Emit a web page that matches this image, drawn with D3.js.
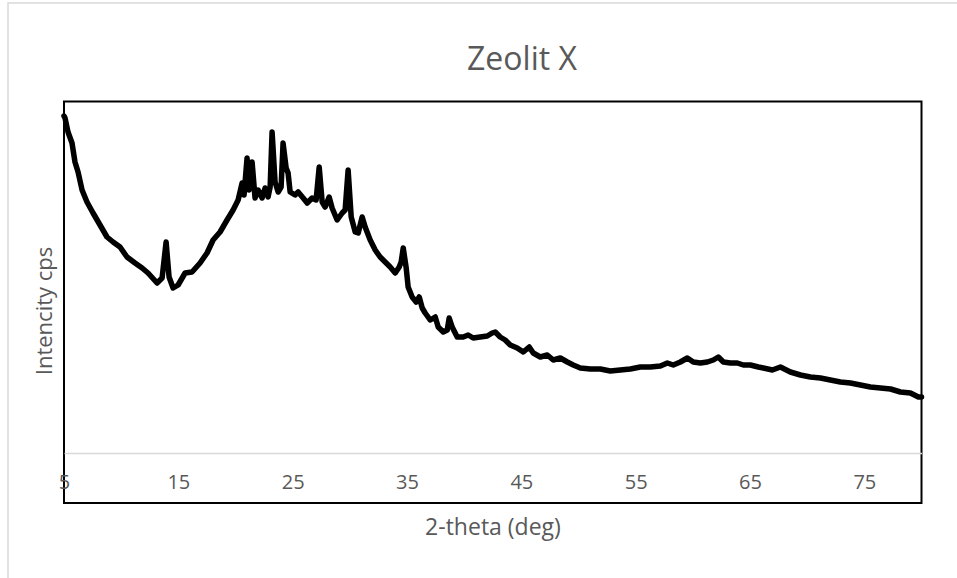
<!DOCTYPE html>
<html>
<head>
<meta charset="utf-8">
<script src="https://cdn.jsdelivr.net/npm/d3@7"></script>
<style>
  html, body { margin: 0; padding: 0; background: #ffffff; }
  svg { display: block; }
</style>
</head>
<body>
<svg id="chart" width="957" height="578"></svg>
<script>
const chartTitle = "Zeolit X";
const xAxisTitle = "2-theta (deg)";
const yAxisTitle = "Intencity cps";
const xTickValues = [5, 15, 25, 35, 45, 55, 65, 75];

const twoTheta = [
  5.00, 5.09, 5.35, 5.70, 5.96, 6.23, 6.58, 7.01, 7.54, 8.15, 8.76, 9.29, 9.90, 10.51, 11.21, 11.83,
  12.35, 13.14, 13.58, 13.93, 14.19, 14.54, 14.98, 15.59, 16.20, 16.90, 17.51, 18.04, 18.65, 19.26,
  19.79, 20.23, 20.58, 20.75, 21.01, 21.19, 21.45, 21.71, 21.98, 22.33, 22.59, 22.85, 23.03, 23.20,
  23.46, 23.73, 23.99, 24.16, 24.43, 24.60, 24.78, 25.21, 25.48, 25.92, 26.27, 26.70, 27.05, 27.32,
  27.58, 27.84, 28.19, 28.45, 28.89, 29.33, 29.59, 29.85, 30.12, 30.47, 30.73, 31.08, 31.34, 31.78,
  32.22, 32.65, 33.09, 33.53, 33.97, 34.32, 34.49, 34.67, 34.93, 35.10, 35.45, 35.80, 36.07, 36.33,
  36.59, 37.03, 37.47, 37.73, 38.17, 38.52, 38.69, 38.95, 39.39, 39.92, 40.35, 40.79, 41.40, 42.02,
  42.45, 42.72, 43.15, 43.59, 44.03, 44.64, 45.17, 45.69, 46.04, 46.66, 47.27, 47.79, 48.41, 49.02,
  49.54, 50.16, 51.03, 51.91, 52.78, 53.66, 54.53, 55.41, 56.28, 57.16, 57.77, 58.29, 58.91, 59.52,
  60.04, 60.66, 61.27, 61.79, 62.23, 62.67, 63.28, 63.89, 64.42, 65.03, 65.73, 66.17, 66.96, 67.66,
  68.53, 69.41, 70.28, 71.16, 72.03, 72.91, 73.78, 74.66, 75.53, 76.41, 77.29, 78.16, 79.03, 79.73, 80.00
];
const intensity = [
  3370, 3350, 3210, 3100, 2910, 2810, 2630, 2510, 2400, 2280, 2160, 2110, 2060, 1960, 1900, 1850,
  1800, 1700, 1750, 2110, 1760, 1650, 1680, 1800, 1810, 1900, 2000, 2130, 2210, 2330,
  2430, 2530, 2700, 2580, 2950, 2630, 2910, 2550, 2630, 2550, 2650, 2560, 2660, 3210,
  2710, 2610, 2660, 3100, 2850, 2800, 2610, 2580, 2610, 2550, 2500, 2550, 2530, 2860,
  2510, 2460, 2560, 2450, 2330, 2400, 2430, 2830, 2360, 2210, 2200, 2360, 2260, 2130,
  2030, 1960, 1910, 1860, 1800, 1860, 1910, 2050, 1850, 1660, 1560, 1510, 1560, 1450,
  1400, 1330, 1360, 1260, 1210, 1230, 1350, 1260, 1160, 1160, 1180, 1150, 1160, 1170,
  1200, 1210, 1160, 1130, 1080, 1050, 1010, 1060, 1000, 960, 980, 930, 950, 910,
  880, 850, 840, 840, 820, 830, 840, 860, 860, 870, 900, 880, 910, 950,
  910, 900, 910, 930, 960, 910, 900, 900, 880, 880, 860, 850, 830, 860,
  810, 780, 760, 750, 730, 710, 700, 680, 660, 650, 640, 610, 600, 560, 560
];

const data = twoTheta.map((t, i) => ({ t, v: intensity[i] }));

const svg = d3.select("#chart");
const W = 957, H = 578;

// chart area border (extends past the window on right and bottom)
svg.append("rect")
  .attr("x", 8).attr("y", 3).attr("width", W + 20).attr("height", H + 20)
  .attr("fill", "#ffffff").attr("stroke", "#d9d9d9").attr("stroke-width", 1.5);

const plotL = 64, plotR = 921.5, plotT = 101.5, plotB = 503;
const x = d3.scaleLinear().domain([5, 80]).range([plotL, plotR]);
const y = d3.scaleLinear().domain([0, 3500]).range([453, 103]);

// plot area border
svg.append("rect")
  .attr("x", plotL).attr("y", plotT)
  .attr("width", plotR - plotL).attr("height", plotB - plotT)
  .attr("fill", "none").attr("stroke", "#000000").attr("stroke-width", 2);

// horizontal axis
const xAxis = d3.axisBottom(x).tickValues(xTickValues).tickSize(0).tickPadding(22).tickFormat(d3.format("d"));
const gx = svg.append("g").attr("transform", `translate(0,${y(0)})`).call(xAxis);
gx.select(".domain").attr("stroke", "#d9d9d9").attr("stroke-width", 1.5);
gx.selectAll("text")
  .attr("fill", "#595959")
  .style("font-family", "'Open Sans', sans-serif")
  .style("font-size", "20px");

// series line
const line = d3.line().x(d => x(d.t)).y(d => y(d.v));
svg.append("path")
  .datum(data)
  .attr("d", line)
  .attr("fill", "none")
  .attr("stroke", "#000000")
  .attr("stroke-width", 5.5)
  .attr("stroke-linejoin", "round")
  .attr("stroke-linecap", "round");

// titles
svg.append("text")
  .attr("x", 522).attr("y", 70)
  .attr("text-anchor", "middle")
  .attr("fill", "#595959")
  .style("font-family", "'Open Sans', sans-serif")
  .style("font-size", "32px")
  .text(chartTitle);

svg.append("text")
  .attr("x", 493).attr("y", 535)
  .attr("text-anchor", "middle")
  .attr("fill", "#595959")
  .style("font-family", "'Open Sans', sans-serif")
  .style("font-size", "23px")
  .text(xAxisTitle);

svg.append("text")
  .attr("transform", "translate(52,311) rotate(-90)")
  .attr("text-anchor", "middle")
  .attr("fill", "#595959")
  .style("font-family", "'Open Sans', sans-serif")
  .style("font-size", "22px")
  .text(yAxisTitle);
</script>
</body>
</html>
